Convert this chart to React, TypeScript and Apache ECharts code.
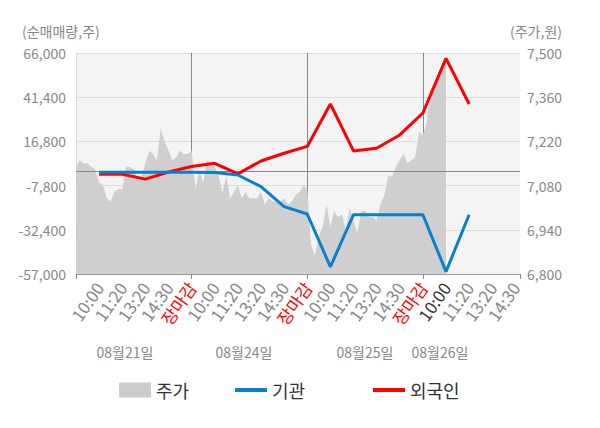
import React, { useEffect, useRef } from "react";
import * as echarts from "echarts";

// x-axis slot labels (slot 0 = market open of first day)
const timeLabels = [
  "",
  "10:00", "11:20", "13:20", "14:30", "장마감",
  "10:00", "11:20", "13:20", "14:30", "장마감",
  "10:00", "11:20", "13:20", "14:30", "장마감",
  "10:00", "11:20", "13:20", "14:30",
];
const currentSlot = 16;
const dayLabels = ["08월21일", "08월24일", "08월25일", "08월26일"];

// 순매매량 (cumulative net volume) at slots 1..17
const lineSlots = [1, 2, 3, 4, 5, 6, 7, 8, 9, 10, 11, 12, 13, 14, 15, 16, 17];
const institution = [
  -400, -400, -400, -400, -400, -500, -1900, -8400, -19500, -23600,
  -53000, -24000, -24000, -24000, -24000, -55700, -24000,
];
const foreign = [
  -1500, -1500, -4200, -200, 2800, 4600, -1300, 5900, 10200, 14000,
  37600, 11500, 13000, 20400, 32600, 63000, 37600,
];

// 주가 (price), 6 samples per slot
const pricesPerSlot = 6;
const prices = [
  7140, 7160, 7150, 7150, 7140, 7130, 7090, 7080, 7040, 7030, 7060, 7070, 7070, 7140, 7140, 7130,
  7100, 7110, 7150, 7190, 7180, 7160, 7260, 7220, 7190, 7160, 7170, 7190, 7180, 7180, 7190,
  7070, 7130, 7090, 7160, 7150, 7140, 7110, 7060, 7110, 7040, 7060, 7080, 7040, 7060, 7040,
  7040, 7040, 7060, 7020, 7040, 7030, 7030, 7030, 7040, 7020, 7030, 7050, 7060, 7080, 7070,
  6890, 6860, 6920, 6950, 7020, 6950, 7000, 6980, 6990, 6940, 7010, 6970, 6930, 7000, 7000,
  6980, 6980, 6970, 7020, 7050, 7110, 7110, 7140, 7160, 7180, 7150, 7160, 7170, 7250, 7240,
  7280, 7380, 7410, 7420, 7460, 7480,
];

const leftTicks = { min: -57000, max: 66000, interval: 24600 };
const rightTicks = { min: 6800, max: 7500, interval: 140 };
const daySlots = 5;
const xMax = 19.2;

const FONT = "'Noto Sans CJK KR', 'Noto Sans', sans-serif";
const GREY = "#888888";
const XFONT = 17;

export default function App() {
  const ref = useRef<HTMLDivElement>(null);

  useEffect(() => {
    if (!ref.current) return;
    const chart = echarts.init(ref.current, undefined, { renderer: "svg" });
    const fmt = (v: number) => v.toLocaleString("en-US");

    chart.setOption({
      animation: false,
      textStyle: { fontFamily: FONT },
      grid: {
        left: 76,
        right: 80,
        top: 53,
        bottom: 154,
        show: true,
        backgroundColor: "#f4f4f4",
        borderWidth: 0,
      },
      legend: [
        {
          data: ["주가"], left: 114, top: 376, icon: "rect", itemWidth: 32, itemHeight: 15,
          textStyle: { fontSize: 18, color: "#333", fontFamily: FONT },
        },
        {
          data: ["기관"], left: 230, top: 376, icon: "rect", itemWidth: 32, itemHeight: 4,
          textStyle: { fontSize: 18, color: "#333", fontFamily: FONT },
        },
        {
          data: ["외국인"], left: 368, top: 376, icon: "rect", itemWidth: 32, itemHeight: 4,
          textStyle: { fontSize: 18, color: "#333", fontFamily: FONT },
        },
      ],
      xAxis: [
        {
          type: "value",
          min: 0,
          max: xMax,
          interval: 1,
          position: "bottom",
          axisLine: { show: true, onZero: false, lineStyle: { color: "#999" } },
          axisTick: { show: false },
          splitLine: { show: false },
          axisLabel: {
            rotate: 55,
            margin: 10,
            fontSize: XFONT,
            color: GREY,
            fontFamily: FONT,
            formatter: (v: number) => {
              if (Math.abs(v - Math.round(v)) > 1e-6) return "";
              const i = Math.round(v);
              const t = timeLabels[i] || "";
              if (!t) return "";
              if (t === "장마감") return `{close|${t}}`;
              if (i === currentSlot) return `{now|${t}}`;
              return t;
            },
            rich: {
              close: { color: "#ff0000", fontSize: XFONT, fontFamily: FONT },
              now: { color: "#333333", fontSize: XFONT, fontFamily: FONT },
            },
          },
        },
        {
          type: "value",
          min: 0,
          max: xMax,
          interval: daySlots,
          position: "bottom",
          axisLine: { show: false, onZero: false },
          axisTick: { show: true, length: 5, lineStyle: { color: GREY } },
          axisLabel: { show: false },
          splitLine: {
            show: true,
            showMinLine: false,
            showMaxLine: false,
            lineStyle: { color: GREY, width: 1 },
          },
        },
      ],
      yAxis: [
        {
          type: "value",
          position: "left",
          ...leftTicks,
          axisLine: { show: true, lineStyle: { color: "#999" } },
          axisTick: { show: false },
          axisLabel: { fontSize: 14, color: GREY, margin: 10, formatter: fmt, fontFamily: FONT },
          splitLine: { show: true, lineStyle: { color: "#dddddd" } },
        },
        {
          type: "value",
          position: "right",
          ...rightTicks,
          axisLine: { show: true, lineStyle: { color: "#dddddd" } },
          axisTick: { show: false },
          axisLabel: { fontSize: 14, color: GREY, margin: 7, formatter: fmt, fontFamily: FONT },
          splitLine: { show: false },
        },
      ],
      series: [
        {
          name: "주가",
          type: "line",
          xAxisIndex: 0,
          yAxisIndex: 1,
          data: prices.map((p, i) => [i / pricesPerSlot, p]),
          symbol: "none",
          color: "#cccccc",
          itemStyle: { color: "#cccccc" },
          lineStyle: { width: 0, color: "#cfcfcf" },
          areaStyle: { color: "#cfcfcf", opacity: 1, origin: "start" },
          z: 1,
        },
        {
          name: "외국인",
          type: "line",
          xAxisIndex: 0,
          yAxisIndex: 0,
          data: lineSlots.map((s, i) => [s, foreign[i]]),
          symbol: "none",
          color: "#ff0000",
          itemStyle: { color: "#ff0000" },
          lineStyle: { width: 3, color: "#ff0000" },
          z: 3,
          markLine: {
            silent: true,
            symbol: "none",
            label: { show: false },
            lineStyle: { color: GREY, type: "solid", width: 1 },
            data: [{ yAxis: 0 }],
            z: 2,
          },
        },
        {
          name: "기관",
          type: "line",
          xAxisIndex: 0,
          yAxisIndex: 0,
          data: lineSlots.map((s, i) => [s, institution[i]]),
          symbol: "none",
          color: "#0a7fcc",
          itemStyle: { color: "#0a7fcc" },
          lineStyle: { width: 3, color: "#0a7fcc" },
          z: 4,
        },
      ],
      graphic: [
        {
          type: "text", left: 22, top: 24,
          style: { text: "(순매매량,주)", fontSize: 14, fill: GREY, fontFamily: FONT },
        },
        {
          type: "text", right: 38, top: 24,
          style: { text: "(주가,원)", fontSize: 14, fill: GREY, fontFamily: FONT },
        },
        ...dayLabels.map((d, i) => ({
          type: "text",
          x: [125, 244, 365, 440][i],
          y: 352,
          style: {
            text: d, fontSize: 14, fill: GREY, fontFamily: FONT,
            textAlign: "center", textVerticalAlign: "middle",
          },
        })),
      ],
    });

    return () => chart.dispose();
  }, []);

  return (
    <div
      ref={ref}
      style={{ position: "fixed", left: 0, top: 0, width: 600, height: 428, background: "#fff" }}
    />
  );
}
